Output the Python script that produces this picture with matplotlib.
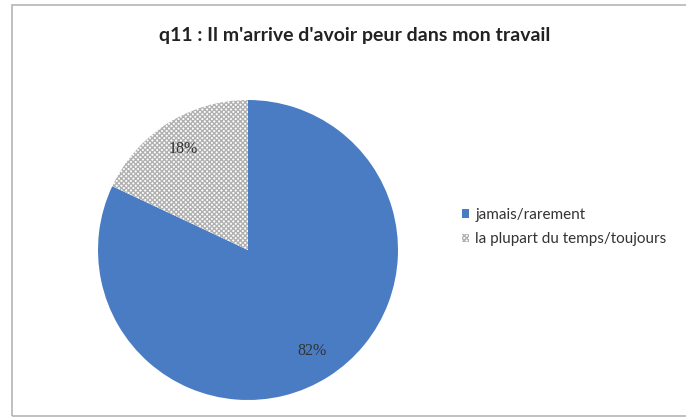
import matplotlib
matplotlib.use("Agg")
import matplotlib.pyplot as plt
from matplotlib.patches import Rectangle, Patch

categories = ["jamais/rarement", "la plupart du temps/toujours"]
values = [82, 18]
pct_labels = ["82%", "18%"]
title = "q11 : Il m'arrive d'avoir peur dans mon travail"

W, H = 686, 418
fig = plt.figure(figsize=(W / 100, H / 100), dpi=100)
fig.patch.set_facecolor("white")

# outer frame (right side runs off the image)
fig.patches.append(Rectangle((12 / W, 2 / H), 690 / W, 411 / H, transform=fig.transFigure,
                             fill=False, edgecolor="#b5b5b5", linewidth=1.2))

cx, cy, rw, rh = 248, 250, 150, 150
ax = fig.add_axes([(cx - rw) / W, 1 - (cy + rh) / H, 2 * rw / W, 2 * rh / H])
wedges, texts, autotexts = ax.pie(values, startangle=90, counterclock=False,
                                  colors=["#4a7cc3", "white"], autopct="%d%%",
                                  radius=1.0, pctdistance=0.8,
                                  wedgeprops=dict(linewidth=0))
wedges[1].set_hatch("xxxxxxx")
wedges[1].set_edgecolor("#b0b0b0")
wedges[1].set_linewidth(0)
ax.set_aspect("auto")
ax.set_xlim(-1, 1)
ax.set_ylim(-1, 1)
ax.axis("off")

for t, lbl in zip(autotexts, pct_labels):
    t.set_text(lbl)
    t.set_fontfamily("Liberation Serif")
    t.set_fontsize(11.5)
    t.set_color("#333333")

fig.text(355 / W, 1 - 35 / H, title, ha="center", va="center",
         fontsize=14, fontweight="bold", family="Lato", color="#222222")

handles = [Patch(facecolor="#4a7cc3", edgecolor="none"),
           Patch(facecolor="white", edgecolor="#b0b0b0", hatch="xxxxxxx", linewidth=0)]
fig.legend(handles, categories, loc="center left", bbox_to_anchor=(448 / W, 1 - 227 / H),
           frameon=False, handlelength=0.5, handleheight=0.5,
           handletextpad=0.4, labelspacing=0.7, prop={"family": "Lato", "size": 11},
           labelcolor="#333333")

fig.savefig("out.png", dpi=100, facecolor="white")
